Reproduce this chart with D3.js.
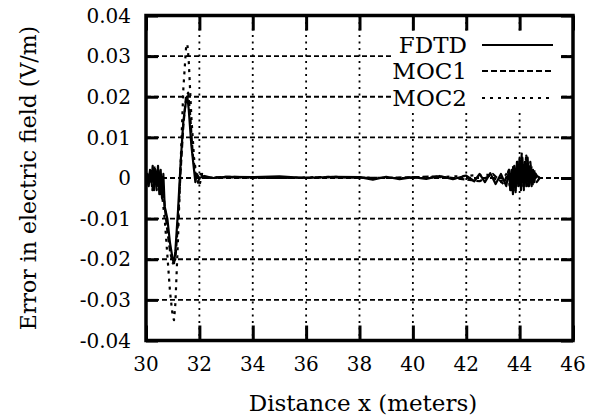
<!DOCTYPE html>
<html>
<head>
<meta charset="utf-8">
<script src="https://cdn.jsdelivr.net/npm/d3@7"></script>
<style>
  html, body { margin: 0; padding: 0; background: #fff; }
  svg { display: block; }
  text { font-family: "DejaVu Serif", serif; fill: #000; }
</style>
</head>
<body>
<svg id="chart" width="600" height="417"></svg>
<script>
// ---------- data ----------
const xTicks = [30, 32, 34, 36, 38, 40, 42, 44, 46];
const yTicks = [-0.04, -0.03, -0.02, -0.01, 0, 0.01, 0.02, 0.03, 0.04];
const yTickLabels = ["-0.04", "-0.03", "-0.02", "-0.01", "0", "0.01", "0.02", "0.03", "0.04"];
const seriesNames = ["FDTD", "MOC1", "MOC2"];

const fdtdX = [30.00, 30.05, 30.10, 30.15, 30.20, 30.25, 30.30, 30.35, 30.40, 30.45, 30.50, 30.55, 30.60, 30.65, 30.70, 30.80, 30.90, 31.00, 31.05, 31.10, 31.20, 31.30, 31.40, 31.50, 31.55, 31.60, 31.70, 31.80, 31.85, 31.90, 32.00, 32.20, 32.50, 33.0, 34.0, 35.0, 36.0, 37.0, 38.0, 38.5, 39.0, 39.5, 40.0, 40.5, 41.0, 41.5, 42.0, 42.3, 42.5, 42.7, 42.9, 43.1, 43.3, 43.5, 43.6, 43.65, 43.7, 43.75, 43.8, 43.85, 43.9, 43.95, 44.0, 44.05, 44.1, 44.15, 44.2, 44.25, 44.3, 44.35, 44.4, 44.45, 44.5, 44.55, 44.6, 44.65, 44.75];
const fdtdY = [0, 0.001, -0.002, 0.002, -0.001, 0.003, -0.003, 0.002, -0.002, 0.003, -0.004, 0.002, -0.005, 0.001, -0.007, -0.010, -0.016, -0.020, -0.021, -0.018, -0.008, 0.004, 0.014, 0.019, 0.020, 0.017, 0.008, 0.002, -0.001, 0.001, 0, 0.0005, 0, 0.0003, 0.0002, 0.0004, 0, 0.0003, 0.0002, -0.0004, 0.0003, -0.0003, 0.0002, -0.0002, 0.0005, -0.0003, 0.0006, -0.0008, 0.001, -0.001, 0.0012, -0.0015, 0.001, -0.002, 0.002, -0.003, 0.002, -0.004, 0.003, -0.003, 0.004, -0.002, 0.005, -0.003, 0.005, -0.002, 0.004, -0.002, 0.005, -0.002, 0.003, -0.002, 0.002, -0.001, 0.001, 0.0005, 0];

const moc1X = [30.00, 30.08, 30.16, 30.24, 30.32, 30.40, 30.48, 30.56, 30.64, 30.70, 30.80, 30.90, 31.00, 31.10, 31.20, 31.30, 31.40, 31.50, 31.58, 31.65, 31.75, 31.85, 31.95, 32.05, 32.20, 33.0, 35.0, 37.0, 39.0, 41.0, 42.5, 43.0, 43.4, 43.6, 43.68, 43.76, 43.84, 43.92, 44.00, 44.08, 44.16, 44.24, 44.32, 44.40, 44.48, 44.56, 44.64, 44.75];
const moc1Y = [0, -0.002, 0.002, -0.003, 0.003, -0.003, 0.002, -0.004, -0.002, -0.007, -0.013, -0.018, -0.021, -0.020, -0.011, 0.002, 0.013, 0.020, 0.021, 0.016, 0.006, 0.001, -0.001, 0.001, 0, 0.0003, 0, 0.0002, 0, 0.0004, -0.0008, 0.001, -0.0015, 0.002, -0.0035, 0.0025, -0.003, 0.004, -0.002, 0.006, -0.003, 0.005, -0.002, 0.004, -0.002, 0.002, -0.001, 0];

const moc2X = [30.00, 30.10, 30.20, 30.30, 30.40, 30.50, 30.60, 30.70, 30.80, 30.90, 31.00, 31.05, 31.10, 31.20, 31.30, 31.40, 31.50, 31.55, 31.60, 31.70, 31.80, 31.90, 32.00, 32.10, 32.30, 33.0, 35.0, 37.0, 39.0, 41.0, 42.8, 43.3, 43.55, 43.65, 43.75, 43.85, 43.95, 44.05, 44.15, 44.25, 44.35, 44.45, 44.55, 44.65, 44.75];
const moc2Y = [0, 0.001, -0.001, 0.002, -0.002, 0.001, -0.004, -0.010, -0.019, -0.028, -0.034, -0.035, -0.031, -0.015, 0.004, 0.022, 0.032, 0.033, 0.029, 0.015, 0.005, 0.000, -0.002, 0.001, 0, 0.0002, 0, 0.0003, 0, 0.0002, 0.0008, -0.001, 0.0015, -0.003, 0.003, -0.0035, 0.003, 0.005, -0.002, 0.0055, -0.002, 0.003, -0.001, 0.001, 0];

// ---------- layout ----------
const svg = d3.select("#chart");
const L = 146, R = 573, T = 15.5, B = 340.5;
const x = d3.scaleLinear().domain([30, 46]).range([L, R]);
const y = d3.scaleLinear().domain([-0.04, 0.04]).range([B, T]);

svg.append("defs").append("clipPath").attr("id", "clip")
  .append("rect").attr("x", L).attr("y", T).attr("width", R - L).attr("height", B - T);

// grid
const grid = svg.append("g");
grid.selectAll("line.v").data(xTicks.slice(1, -1)).join("line")
  .attr("x1", d => x(d)).attr("x2", d => x(d)).attr("y1", T).attr("y2", B)
  .attr("stroke", "#000").attr("stroke-width", 1.8).attr("stroke-dasharray", "2,4.5");
grid.selectAll("line.h").data(yTicks.slice(1, -1)).join("line")
  .attr("y1", d => y(d)).attr("y2", d => y(d)).attr("x1", L).attr("x2", R)
  .attr("stroke", "#000").attr("stroke-width", 1.8).attr("stroke-dasharray", "5,3");

// legend background (hides grid)
svg.append("rect").attr("x", 393).attr("y", 32).attr("width", 166).attr("height", 78).attr("fill", "#fff");

// data lines
const dashes = ["none", "6,3", "3,5"];
const seriesData = [
  fdtdX.map((v, i) => [v, fdtdY[i]]),
  moc1X.map((v, i) => [v, moc1Y[i]]),
  moc2X.map((v, i) => [v, moc2Y[i]])
];
const line = d3.line().x(d => x(d[0])).y(d => y(d[1]));
const plot = svg.append("g").attr("clip-path", "url(#clip)");
seriesData.forEach((s, i) => {
  plot.append("path").datum(s).attr("d", line)
    .attr("fill", "none").attr("stroke", "#000").attr("stroke-width", 2.2)
    .attr("stroke-dasharray", dashes[i]).attr("stroke-linejoin", "round");
});

// axes with inward ticks
const axL = d3.axisLeft(y).tickValues(yTicks).tickSize(-12).tickFormat("");
const axR = d3.axisRight(y).tickValues(yTicks).tickSize(-12).tickFormat("");
const axB = d3.axisBottom(x).tickValues(xTicks).tickSize(-15).tickFormat("");
const axT = d3.axisTop(x).tickValues(xTicks).tickSize(-15).tickFormat("");
[[axL, `translate(${L},0)`], [axR, `translate(${R},0)`], [axB, `translate(0,${B})`], [axT, `translate(0,${T})`]]
  .forEach(([ax, tr]) => {
    const g = svg.append("g").attr("transform", tr).call(ax);
    g.select(".domain").remove();
    g.selectAll(".tick line").attr("stroke", "#000").attr("stroke-width", 3);
  });

// border
svg.append("rect").attr("x", L).attr("y", T).attr("width", R - L).attr("height", B - T)
  .attr("fill", "none").attr("stroke", "#000").attr("stroke-width", 3.5);

// tick labels
svg.append("g").selectAll("text").data(yTicks).join("text")
  .attr("x", 131).attr("y", d => y(d)).attr("dy", "0.36em")
  .attr("text-anchor", "end").attr("font-size", 20)
  .text((d, i) => yTickLabels[i]);
svg.append("g").selectAll("text").data(xTicks).join("text")
  .attr("x", d => x(d)).attr("y", 371)
  .attr("text-anchor", "middle").attr("font-size", 20)
  .text(d => d);

// axis titles
svg.append("text").attr("x", 363).attr("y", 411)
  .attr("text-anchor", "middle").attr("font-size", 23)
  .text("Distance x (meters)");
svg.append("text").attr("transform", `translate(36,${(T + B) / 2}) rotate(-90)`)
  .attr("text-anchor", "middle").attr("font-size", 22)
  .text("Error in electric field (V/m)");

// legend
const legY = [45, 71, 98];
const leg = svg.append("g");
seriesNames.forEach((n, i) => {
  leg.append("text").attr("x", 467).attr("y", legY[i]).attr("dy", "0.36em")
    .attr("text-anchor", "end").attr("font-size", 23).text(n);
  leg.append("line").attr("x1", 482).attr("x2", 553).attr("y1", legY[i]).attr("y2", legY[i])
    .attr("stroke", "#000").attr("stroke-width", 2.2).attr("stroke-dasharray", dashes[i]);
});
</script>
</body>
</html>
